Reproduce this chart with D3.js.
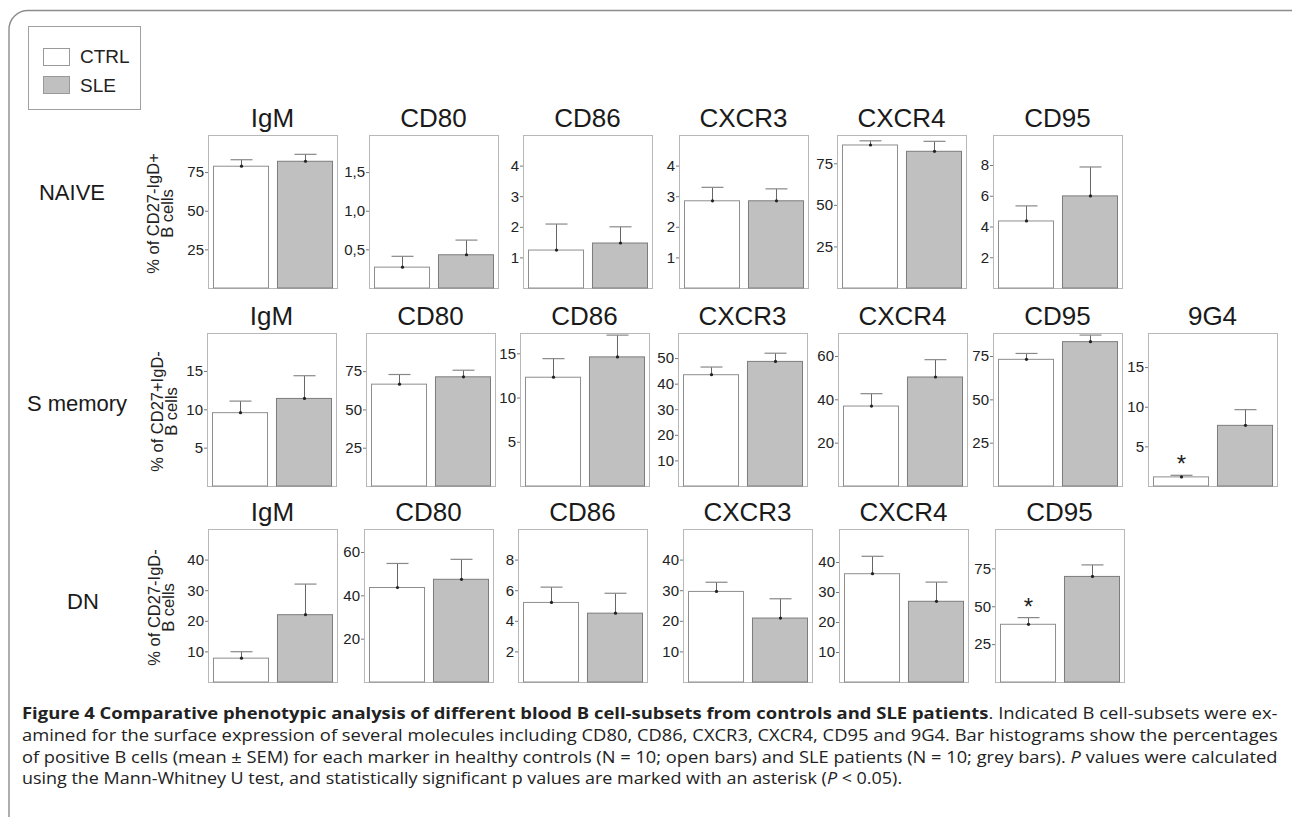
<!DOCTYPE html>
<html>
<head>
<meta charset="utf-8">
<script src="https://cdn.jsdelivr.net/npm/d3@7"></script>
<style>
  body { margin: 0; background: #fff; }
  svg { display: block; font-family: "Liberation Sans", Arial, sans-serif; }
</style>
</head>
<body>
<svg id="chart" width="1292" height="817"></svg>
<script>
// ---------- data ----------
const groups = ['CTRL', 'SLE'];
const rowNames = ['NAIVE', 'S memory', 'DN'];
const rowYLabels = [
  ['% of CD27-IgD+', 'B cells'],
  ['% of CD27+IgD-', 'B cells'],
  ['% of CD27-IgD-', 'B cells']
];

const naiveMarkers = ['IgM', 'CD80', 'CD86', 'CXCR3', 'CXCR4', 'CD95'];
const naiveCtrl = [78.8, 0.27, 1.24, 2.85, 86.0, 4.36];
const naiveCtrlSem = [4.2, 0.14, 0.85, 0.44, 2.5, 0.98];
const naiveSle = [82.0, 0.43, 1.47, 2.85, 82.2, 5.99];
const naiveSleSem = [4.5, 0.19, 0.53, 0.39, 6.0, 1.88];
const naiveTicks = [[25, 50, 75], [0.5, 1, 1.5], [1, 2, 3, 4], [1, 2, 3, 4], [25, 50, 75], [2, 4, 6, 8]];
const naiveMax = [99, 1.98, 5.0, 5.0, 92, 9.95];

const memoryMarkers = ['IgM', 'CD80', 'CD86', 'CXCR3', 'CXCR4', 'CD95', '9G4'];
const memoryCtrl = [9.56, 66.5, 12.3, 43.5, 36.9, 73.1, 1.15];
const memoryCtrlSem = [1.51, 6.3, 2.1, 3.0, 5.7, 3.4, 0.2];
const memorySle = [11.42, 71.3, 14.6, 48.7, 50.3, 83.3, 7.65];
const memorySleSem = [2.96, 4.3, 2.46, 3.2, 8.0, 3.8, 1.98];
const memoryTicks = [[5, 10, 15], [25, 50, 75], [5, 10, 15], [10, 20, 30, 40, 50], [20, 40, 60], [25, 50, 75], [5, 10, 15]];
const memoryMax = [19.95, 99.9, 17.3, 59.8, 70.6, 88.3, 19.3];
const memorySig = ['9G4'];

const dnMarkers = ['IgM', 'CD80', 'CD86', 'CXCR3', 'CXCR4', 'CD95'];
const dnCtrl = [7.8, 43.6, 5.2, 29.6, 36.1, 38.1];
const dnCtrlSem = [2.1, 11.1, 1.0, 3.0, 5.8, 4.4];
const dnSle = [22.0, 47.4, 4.5, 20.9, 26.9, 69.7];
const dnSleSem = [10.0, 9.2, 1.3, 6.3, 6.4, 7.6];
const dnTicks = [[10, 20, 30, 40], [20, 40, 60], [2, 4, 6, 8], [10, 20, 30, 40], [10, 20, 30, 40], [25, 50, 75]];
const dnMax = [50, 70.6, 10, 50, 51, 101];
const dnSig = ['CD95'];

// ---------- layout ----------
const panelW = 129, panelH = 153;
const rowLayout = [
  { top: 135, lefts: [208, 369, 523, 679, 837, 993], labelX: 72, labelY: 200, yLabX: 159 },
  { top: 333, lefts: [207, 366, 520, 678, 838, 993, 1148], labelX: 77, labelY: 411, yLabX: 163 },
  { top: 529, lefts: [208, 364, 518, 683, 839, 995], labelX: 83, labelY: 609, yLabX: 160 }
];

const rowsData = [
  { markers: naiveMarkers, ctrl: naiveCtrl, ctrlSem: naiveCtrlSem, sle: naiveSle, sleSem: naiveSleSem, ticks: naiveTicks, max: naiveMax, sig: [] },
  { markers: memoryMarkers, ctrl: memoryCtrl, ctrlSem: memoryCtrlSem, sle: memorySle, sleSem: memorySleSem, ticks: memoryTicks, max: memoryMax, sig: memorySig },
  { markers: dnMarkers, ctrl: dnCtrl, ctrlSem: dnCtrlSem, sle: dnSle, sleSem: dnSleSem, ticks: dnTicks, max: dnMax, sig: dnSig }
];

const commaLocale = d3.formatLocale({ decimal: ',', thousands: '.', grouping: [3], currency: ['', ''] });

const svg = d3.select('#chart');

// outer frame (rounded top-left corner, runs off to the right and bottom)
svg.append('path')
  .attr('d', 'M1292,10.5 H28 A19,19 0 0 0 9,29.5 V817')
  .attr('fill', 'none')
  .attr('stroke', '#8c8c8c')
  .attr('stroke-width', 1.4);

// legend
const legend = svg.append('g');
legend.append('rect')
  .attr('x', 28.5).attr('y', 26.5).attr('width', 112).attr('height', 83)
  .attr('fill', '#fff').attr('stroke', '#a0a0a0');
groups.forEach((g, i) => {
  legend.append('rect')
    .attr('x', 43.5).attr('y', 48.5 + i * 28).attr('width', 26).attr('height', 17)
    .attr('fill', i === 0 ? '#fff' : '#c0c0c0')
    .attr('stroke', '#999');
  legend.append('text')
    .attr('x', 80).attr('y', 63 + i * 28.5)
    .attr('font-size', 19).attr('fill', '#222')
    .text(g);
});

// ---------- panels ----------
rowsData.forEach((row, r) => {
  const lay = rowLayout[r];

  // row label
  svg.append('text')
    .attr('x', lay.labelX).attr('y', lay.labelY)
    .attr('text-anchor', 'middle')
    .attr('font-size', 22).attr('fill', '#1a1a1a')
    .text(rowNames[r]);

  // y axis title (two rotated lines)
  const yMid = lay.top + panelH / 2 + 2;
  const yl = svg.append('text')
    .attr('transform', `translate(${lay.yLabX},${yMid}) rotate(-90)`)
    .attr('text-anchor', 'middle')
    .attr('font-size', 16.5).attr('fill', '#222');
  yl.append('tspan').attr('x', 0).attr('y', 0).text(rowYLabels[r][0]);
  yl.append('tspan').attr('x', 0).attr('y', 14).text(rowYLabels[r][1]);

  row.markers.forEach((m, i) => {
    const left = lay.lefts[i];
    const g = svg.append('g').attr('transform', `translate(${left},${lay.top})`);

    const x = d3.scaleBand().domain(groups).range([0, panelW])
      .paddingInner(0.14).paddingOuter(0.078);
    const y = d3.scaleLinear().domain([0, row.max[i]]).range([panelH, 0]);

    // title
    svg.append('text')
      .attr('x', left + panelW / 2).attr('y', lay.top - 8)
      .attr('text-anchor', 'middle')
      .attr('font-size', 26).attr('fill', '#1a1a1a')
      .text(m);

    // panel box
    g.append('rect')
      .attr('x', 0.5).attr('y', 0.5).attr('width', panelW).attr('height', panelH)
      .attr('fill', '#fff').attr('stroke', '#b8b8b8');

    const ticks = row.ticks[i];
    const fmt = ticks.some(t => !Number.isInteger(t)) ? commaLocale.format('.1f') : d3.format('d');
    const axis = g.append('g')
      .call(d3.axisLeft(y).tickValues(ticks).tickFormat(fmt).tickSize(3).tickPadding(1));
    axis.select('.domain').remove();
    axis.selectAll('line').attr('stroke', '#777');
    axis.selectAll('text')
      .attr('font-size', 15).attr('fill', '#222')
      .attr('font-family', '"Liberation Sans", Arial, sans-serif');

    const vals = [
      { grp: 'CTRL', mean: row.ctrl[i], sem: row.ctrlSem[i] },
      { grp: 'SLE', mean: row.sle[i], sem: row.sleSem[i] }
    ];

    g.selectAll('rect.bar')
      .data(vals)
      .join('rect')
      .attr('class', 'bar')
      .attr('x', d => x(d.grp) + 0.5)
      .attr('y', d => y(d.mean))
      .attr('width', x.bandwidth())
      .attr('height', d => panelH - y(d.mean))
      .attr('fill', d => d.grp === 'CTRL' ? '#fff' : '#c0c0c0')
      .attr('stroke', d => d.grp === 'CTRL' ? '#8e8e8e' : '#7c7c7c')
      .attr('stroke-width', 1);

    // error bars (upper half only)
    vals.forEach(d => {
      const cx = x(d.grp) + x.bandwidth() / 2 + 1;
      g.append('line')
        .attr('x1', cx).attr('x2', cx)
        .attr('y1', y(d.mean)).attr('y2', y(d.mean + d.sem))
        .attr('stroke', '#666').attr('stroke-width', 1);
      g.append('line')
        .attr('x1', cx - 11).attr('x2', cx + 11)
        .attr('y1', y(d.mean + d.sem)).attr('y2', y(d.mean + d.sem))
        .attr('stroke', '#888').attr('stroke-width', 1.2);
      g.append('circle')
        .attr('cx', cx).attr('cy', y(d.mean))
        .attr('r', 1.6).attr('fill', '#222');
    });

    // significance asterisk over the control bar
    if (row.sig.includes(m)) {
      const d = vals[0];
      g.append('text')
        .attr('x', x(d.grp) + x.bandwidth() / 2 + 1)
        .attr('y', y(d.mean + d.sem) - 3)
        .attr('text-anchor', 'middle')
        .attr('font-size', 24).attr('fill', '#222')
        .text('*');
    }
  });
});

// ---------- caption ----------
// lines are drawn at natural width and squeezed horizontally to the column width
const cap = svg.append('g')
  .attr('font-family', '"Open Sans", "Noto Sans", sans-serif')
  .attr('font-size', 16.3).attr('fill', '#222');
const capX = 22;
const capLines = [
  { y: 719, len: 1255, parts: [
    { t: 'Figure 4 Comparative phenotypic analysis of different blood B cell-subsets from controls and SLE patients', w: 'bold' },
    { t: '. Indicated B cell-subsets were ex-' }] },
  { y: 741, len: 1255, parts: [
    { t: 'amined for the surface expression of several molecules including CD80, CD86, CXCR3, CXCR4, CD95 and 9G4. Bar histograms show the percentages' }] },
  { y: 762.5, len: 1255, parts: [
    { t: 'of positive B cells (mean \u00b1 SEM) for each marker in healthy controls (N = 10; open bars) and SLE patients (N = 10; grey bars). ' },
    { t: 'P', s: 'italic' }, { t: ' values were calculated' }] },
  { y: 784, len: null, parts: [
    { t: 'using the Mann-Whitney U test, and statistically significant p values are marked with an asterisk (' },
    { t: 'P', s: 'italic' }, { t: ' < 0.05).' }] }
];
const scales = [];
capLines.forEach(line => {
  const holder = cap.append('g');
  const t = holder.append('text').attr('x', 0).attr('y', 0)
    .style('white-space', 'pre');
  line.parts.forEach(p => {
    t.append('tspan')
      .attr('font-weight', p.w || null)
      .attr('font-style', p.s || null)
      .text(p.t);
  });
  const natural = t.node().getComputedTextLength();
  let sx;
  if (line.len) {
    sx = line.len / natural;
    scales.push(sx);
  } else {
    // last line is not justified: a touch narrower than the stretched lines
    sx = d3.mean(scales.slice(1)) * 0.98;
  }
  holder.attr('transform', `translate(${capX},${line.y}) scale(${sx},1)`);
});
</script>
</body>
</html>
